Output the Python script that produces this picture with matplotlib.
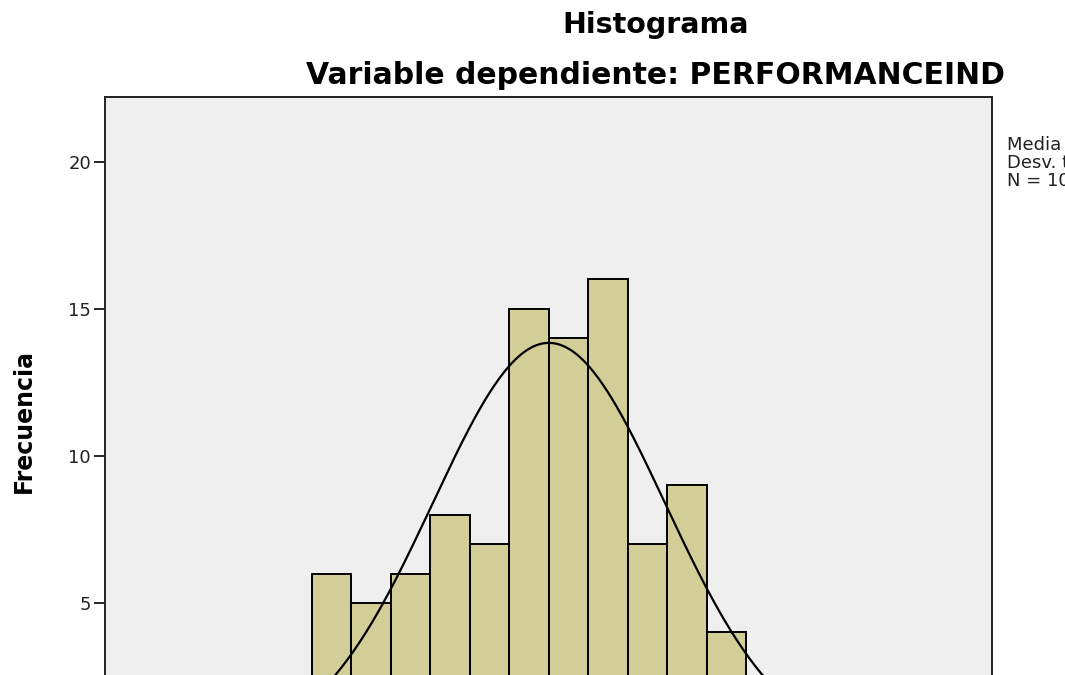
import numpy as np
import matplotlib.pyplot as plt
from matplotlib import font_manager

# bar counts (bins of width 1, left edge of the first bar at 0)
counts = [6, 5, 6, 8, 7, 15, 14, 16, 7, 9, 4]
bin_left = np.arange(len(counts))
bin_width = 1.0

# normal curve parameters (estimated from the drawn curve)
curve_mean = 6.0
curve_std = 2.94
curve_n = 102

title = "Histograma"
subtitle = "Variable dependiente: PERFORMANCEIND"
legend_lines = ["Media = 0,00", "Desv. típica = 1,00", "N = 102"]
yticks = [5, 10, 15, 20]

names = {f.name for f in font_manager.fontManager.ttflist}
narrow = "Liberation Sans Narrow" if "Liberation Sans Narrow" in names else "DejaVu Sans"
plt.rcParams['font.family'] = ['DejaVu Sans']

fig = plt.figure(figsize=(10.65, 6.75), dpi=100)
ax = fig.add_axes([105 / 1065, 1 - 750 / 675, 887 / 1065, 653 / 675])
ax.set_facecolor('#efefef')

ax.bar(bin_left, counts, width=bin_width, align='edge', color='#d3ce98',
       edgecolor='black', linewidth=1.4, zorder=2)

xs = np.linspace(-5.24, 17.22, 600)
ys = curve_n * bin_width / (curve_std * np.sqrt(2 * np.pi)) * np.exp(-0.5 * ((xs - curve_mean) / curve_std) ** 2)
ax.plot(xs, ys, color='black', linewidth=1.6, zorder=3)

ax.set_xlim(-5.24, 17.22)
ax.set_ylim(0, 22.2)
ax.set_yticks(yticks)
ax.set_yticklabels([str(t) for t in yticks], fontsize=13, color='#222222')
ax.tick_params(axis='y', length=8, width=1.2, direction='out', pad=2)
ax.tick_params(axis='x', bottom=False, labelbottom=False)
for s in ax.spines.values():
    s.set_linewidth(1.4)
    s.set_color('#222222')

ax.set_ylabel("Frecuencia", fontsize=17, fontweight='bold', family=narrow)
ax.yaxis.set_label_coords(-0.078, 1 - (421 - 97) / 653)

fig.text(656 / 1065, 1 - 25 / 675, title, ha='center', va='center', fontsize=20.5, fontweight='bold')
fig.text(655 / 1065, 1 - 75 / 675, subtitle, ha='center', va='center', fontsize=21.5, fontweight='bold')

fig.text(1007 / 1065, 1 - 163 / 675, "\n".join(legend_lines), ha='left', va='center',
         fontsize=13, linespacing=0.95, color='#222222')

fig.savefig("out.png", dpi=100)
